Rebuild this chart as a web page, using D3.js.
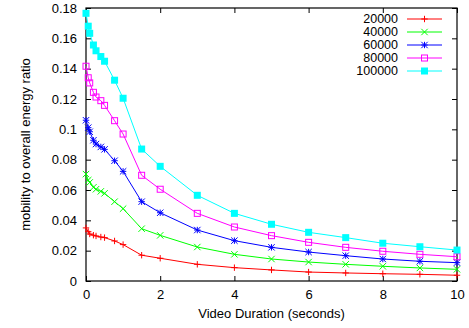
<!DOCTYPE html>
<html>
<head>
<meta charset="utf-8">
<script src="https://cdn.jsdelivr.net/npm/d3@7"></script>
<style>
  body { margin: 0; background: #fff; }
  text { font-family: "Liberation Sans", Arial, sans-serif; font-size: 13px; fill: #000; }
</style>
</head>
<body>
<div id="chart"></div>
<script>
// video durations (seconds)
const durations = [0, 0.06, 0.1, 0.2, 0.27, 0.4, 0.5, 0.77, 1, 1.5, 2, 3, 4, 5, 6, 7, 8, 9, 10];

const series_names = ["20000", "40000", "60000", "80000", "100000"];
const ratio_20000 = [0.0350, 0.0325, 0.0310, 0.0302, 0.0297, 0.0290, 0.0286, 0.0264, 0.0240, 0.0170, 0.0150, 0.0110, 0.0088, 0.0073, 0.0059, 0.0053, 0.0048, 0.0044, 0.0038];
const ratio_40000 = [0.0705, 0.0665, 0.0650, 0.0618, 0.0605, 0.0591, 0.0578, 0.0523, 0.0477, 0.0345, 0.0301, 0.0224, 0.0176, 0.0145, 0.0125, 0.0110, 0.0097, 0.0086, 0.0077];
const ratio_60000 = [0.1060, 0.1011, 0.0984, 0.0928, 0.0903, 0.0884, 0.0868, 0.0793, 0.0723, 0.0523, 0.0450, 0.0336, 0.0266, 0.0222, 0.0191, 0.0167, 0.0145, 0.0130, 0.0121];
const ratio_80000 = [0.1416, 0.1340, 0.1306, 0.1244, 0.1213, 0.1189, 0.1158, 0.1057, 0.0969, 0.0697, 0.0605, 0.0446, 0.0356, 0.0299, 0.0255, 0.0222, 0.0196, 0.0176, 0.0160];
const ratio_100000 = [0.1765, 0.1680, 0.1633, 0.1556, 0.1518, 0.1480, 0.1449, 0.1324, 0.1205, 0.0870, 0.0756, 0.0565, 0.0446, 0.0374, 0.0321, 0.0286, 0.0249, 0.0226, 0.0204];

const x_ticks = [0, 2, 4, 6, 8, 10];
const y_ticks = [0, 0.02, 0.04, 0.06, 0.08, 0.1, 0.12, 0.14, 0.16, 0.18];

const colors = ["#ff0000", "#00ff00", "#0000ff", "#ff00ff", "#00ffff"];
const markers = ["plus", "cross", "star", "box", "fbox"];

const all_series = [ratio_20000, ratio_40000, ratio_60000, ratio_80000, ratio_100000];

const width = 469, height = 328;
const margin = {left: 86, right: 12, top: 8, bottom: 47};

const svg = d3.select("#chart").append("svg")
  .attr("width", width)
  .attr("height", height);

const x = d3.scaleLinear().domain([0, 10]).range([margin.left, width - margin.right]);
const y = d3.scaleLinear().domain([0, 0.18]).range([height - margin.bottom, margin.top]);

const tickLen = 5;

// axes with inward ticks, mirrored on top and right
svg.append("g")
  .attr("transform", `translate(0,${y(0)})`)
  .call(d3.axisBottom(x).tickValues(x_ticks).tickFormat(d3.format("d")).tickSize(-tickLen).tickPadding(9))
  .call(g => g.select(".domain").remove());
svg.append("g")
  .attr("transform", `translate(0,${y(0.18)})`)
  .call(d3.axisTop(x).tickValues(x_ticks).tickSize(-tickLen).tickFormat(""))
  .call(g => g.select(".domain").remove());
svg.append("g")
  .attr("transform", `translate(${x(0)},0)`)
  .call(d3.axisLeft(y).tickValues(y_ticks).tickFormat(d => d === 0 ? "0" : String(+d.toFixed(2))).tickSize(-tickLen).tickPadding(9))
  .call(g => g.select(".domain").remove());
svg.append("g")
  .attr("transform", `translate(${x(10)},0)`)
  .call(d3.axisRight(y).tickValues(y_ticks).tickSize(-tickLen).tickFormat(""))
  .call(g => g.select(".domain").remove());

svg.selectAll(".tick text").style("font-size", "13px").style("font-family", "Liberation Sans, Arial, sans-serif");
svg.selectAll(".tick line").attr("stroke", "#000");

svg.append("rect")
  .attr("x", x(0)).attr("y", y(0.18))
  .attr("width", x(10) - x(0)).attr("height", y(0) - y(0.18))
  .attr("fill", "none").attr("stroke", "#000").attr("stroke-width", 1.2);

// axis titles
svg.append("text")
  .attr("x", (x(0) + x(10)) / 2).attr("y", 318)
  .attr("text-anchor", "middle")
  .text("Video Duration (seconds)");
svg.append("text")
  .attr("transform", `translate(30,${(y(0) + y(0.18)) / 2}) rotate(-90)`)
  .attr("text-anchor", "middle")
  .text("mobility to overall energy ratio");

function drawMarker(g, type, cx, cy, color) {
  const s = 3.2;
  if (type === "plus" || type === "star") {
    g.append("path").attr("d", `M${cx - s},${cy}H${cx + s}M${cx},${cy - s}V${cy + s}`)
      .attr("stroke", color).attr("stroke-width", 1).attr("fill", "none");
  }
  if (type === "cross" || type === "star") {
    g.append("path").attr("d", `M${cx - s},${cy - s}L${cx + s},${cy + s}M${cx - s},${cy + s}L${cx + s},${cy - s}`)
      .attr("stroke", color).attr("stroke-width", 1).attr("fill", "none");
  }
  if (type === "box") {
    g.append("rect").attr("x", cx - 3).attr("y", cy - 3).attr("width", 6).attr("height", 6)
      .attr("stroke", color).attr("stroke-width", 1).attr("fill", "none");
  }
  if (type === "fbox") {
    g.append("rect").attr("x", cx - 3.5).attr("y", cy - 3.5).attr("width", 7).attr("height", 7)
      .attr("fill", color);
  }
}

const line = d3.line().x((d, i) => x(durations[i])).y(d => y(d));

all_series.forEach((vals, si) => {
  const g = svg.append("g");
  g.append("path")
    .datum(vals)
    .attr("d", line)
    .attr("fill", "none")
    .attr("stroke", colors[si])
    .attr("stroke-width", 1);
  vals.forEach((v, i) => drawMarker(g, markers[si], x(durations[i]), y(v), colors[si]));
});

// legend
const legend = svg.append("g");
series_names.forEach((name, i) => {
  const ly = 19 + i * 13;
  legend.append("text")
    .attr("x", 398).attr("y", ly).attr("dy", "0.35em")
    .attr("text-anchor", "end")
    .style("font-size", "12.5px")
    .text(name);
  legend.append("line")
    .attr("x1", 407).attr("x2", 442).attr("y1", ly).attr("y2", ly)
    .attr("stroke", colors[i]).attr("stroke-width", 1);
  drawMarker(legend, markers[i], 424.5, ly, colors[i]);
});
</script>
</body>
</html>
